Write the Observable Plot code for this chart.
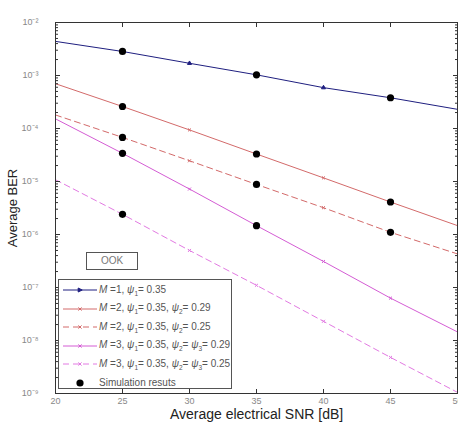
<!DOCTYPE html>
<html>
<head>
<meta charset="utf-8">
<script src="https://cdn.jsdelivr.net/npm/d3@7"></script>
<script src="https://cdn.jsdelivr.net/npm/@observablehq/plot@0.6"></script>
<style>
  html, body { margin: 0; padding: 0; background: #fff; }
  #wrap { position: relative; width: 458px; height: 422px; font-family: "Liberation Sans", Arial, sans-serif; }
  #wrap svg [aria-label="x-axis label"] text,
  #wrap svg [aria-label="x-axis label"] { font-size: 14px; fill: #222; }
  #wrap svg [aria-label="y-axis label"] text,
  #wrap svg [aria-label="y-axis label"] { font-size: 13px; fill: #222; }
  .legend { position: absolute; left: 58px; top: 279px; width: 174px; height: 110px; border: 1px solid #555; background: #fff; box-sizing: border-box; font-size: 10px; color: #555; }
  .row { position: absolute; left: 3px; height: 16px; display: flex; align-items: center; white-space: nowrap; }
  .row svg { margin-right: 1px; }
  .row sub { font-size: 6.5px; vertical-align: -3px; }
  .ook { position: absolute; left: 86px; top: 252px; width: 52px; height: 18px; border: 1px solid #555; box-sizing: border-box; font-size: 10px; color: #777; text-align: center; line-height: 16px; background: #fff; }
</style>
</head>
<body>
<div id="wrap"></div>
<script>
// ---- data ----
const snr = [20, 25, 30, 35, 40, 45, 50];
const berM1 = [4.4e-3, 2.84e-3, 1.7e-3, 1.03e-3, 5.9e-4, 3.8e-4, 2.3e-4];
const berM2a = [7.0e-4, 2.6e-4, 9.4e-5, 3.3e-5, 1.17e-5, 4.1e-6, 1.47e-6];
const berM2b = [1.8e-4, 6.8e-5, 2.46e-5, 8.8e-6, 3.2e-6, 1.1e-6, 4.3e-7];
const berM3a = [1.52e-4, 3.4e-5, 7.2e-6, 1.47e-6, 3.1e-7, 6.3e-8, 1.45e-8];
const berM3b = [1.08e-5, 2.4e-6, 5.0e-7, 1.1e-7, 2.3e-8, 4.8e-9, 1.05e-9];

const simSnr = [25, 35, 45, 25, 35, 45, 25, 35, 45, 25, 35, 25];
const simBer = [2.84e-3, 1.03e-3, 3.8e-4, 2.6e-4, 3.3e-5, 4.1e-6, 6.8e-5, 8.8e-6, 1.1e-6, 3.4e-5, 1.47e-6, 2.4e-6];

const seriesNames = ["M1", "M2a", "M2b", "M3a", "M3b"];
const seriesColors = ["#1f1f80", "#d36a6a", "#d36a6a", "#d45cd4", "#e27ae2"];
const seriesDash = [null, null, "6,4", null, "6,4"];
const seriesSymbols = ["triangle", "times", "times", "times", "times"];
const seriesBer = [berM1, berM2a, berM2b, berM3a, berM3b];

const xTicks = [20, 25, 30, 35, 40, 45, 50];
const yMajor = [1e-9, 1e-8, 1e-7, 1e-6, 1e-5, 1e-4, 1e-3, 1e-2];
const yMinor = [];
for (let k = -9; k <= -3; k++) for (let m = 2; m <= 9; m++) yMinor.push(m * Math.pow(10, k));

const legendLabels = [
  '<i>M</i> =1, <i>ψ</i><sub>1</sub>= 0.35',
  '<i>M</i> =2, <i>ψ</i><sub>1</sub>= 0.35, <i>ψ</i><sub>2</sub>= 0.29',
  '<i>M</i> =2, <i>ψ</i><sub>1</sub>= 0.35, <i>ψ</i><sub>2</sub>= 0.25',
  '<i>M</i> =3, <i>ψ</i><sub>1</sub>= 0.35, <i>ψ</i><sub>2</sub>= <i>ψ</i><sub>3</sub>= 0.29',
  '<i>M</i> =3, <i>ψ</i><sub>1</sub>= 0.35, <i>ψ</i><sub>2</sub>= <i>ψ</i><sub>3</sub>= 0.25'
];
const simLabel = "Simulation resuts";
const boxLabel = "OOK";

// ---- build table ----
const rows = [];
seriesNames.forEach((s, i) => snr.forEach((x, j) => rows.push({series: s, snr: x, ber: seriesBer[i][j]})));
const sims = simSnr.map((x, i) => ({snr: x, ber: simBer[i]}));

const sup = {"-": "⁻", "0": "⁰", "1": "¹", "2": "²", "3": "³", "4": "⁴", "5": "⁵", "6": "⁶", "7": "⁷", "8": "⁸", "9": "⁹"};
const fmtPow = d => "10" + String(Math.round(Math.log10(d))).split("").map(c => sup[c]).join("");

const lineMarks = seriesNames.map((s, i) => Plot.line(rows.filter(r => r.series === s), {
  x: "snr", y: "ber", stroke: seriesColors[i], strokeWidth: 1, strokeDasharray: seriesDash[i]
}));
const markerMarks = seriesNames.map((s, i) => Plot.dot(rows.filter(r => r.series === s && r.snr > 20 && r.snr < 50), {
  x: "snr", y: "ber", stroke: seriesColors[i], fill: seriesColors[i], symbol: seriesSymbols[i], r: 1.5, strokeWidth: 1
}));

const chart = Plot.plot({
  width: 458, height: 422,
  marginLeft: 55, marginRight: 1, marginTop: 22, marginBottom: 29,
  style: {fontFamily: "'Liberation Sans', Arial, sans-serif", fontSize: "9px", color: "#888", background: "#fff"},
  x: {domain: [20, 50]},
  y: {type: "log", domain: [1e-9, 1e-2]},
  marks: [
    ...lineMarks,
    ...markerMarks,
    Plot.dot(sims, {x: "snr", y: "ber", fill: "#000", r: 3.6}),
    Plot.frame({stroke: "#333", strokeWidth: 1}),
    Plot.axisX({ticks: xTicks, tickSize: 0, tickPadding: 4, tickFormat: d => String(d), label: "Average electrical SNR [dB]", labelAnchor: "center", labelArrow: "none", labelOffset: 25.5}),
    Plot.axisX({anchor: "bottom", ticks: xTicks, tickSize: -4, text: null, label: null, stroke: "#333"}),
    Plot.axisX({anchor: "top", ticks: xTicks, tickSize: -4, text: null, label: null, stroke: "#333"}),
    Plot.axisY({ticks: yMajor, tickSize: 0, tickPadding: 17, tickFormat: fmtPow, label: "Average BER", labelAnchor: "center", labelArrow: "none", labelOffset: 48}),
    Plot.axisY({anchor: "left", ticks: yMajor, tickSize: -5, text: null, label: null, stroke: "#333"}),
    Plot.axisY({anchor: "left", ticks: yMinor, tickSize: -3, text: null, label: null, stroke: "#333"}),
    Plot.axisY({anchor: "right", ticks: yMajor, tickSize: -5, text: null, label: null, stroke: "#333"}),
    Plot.axisY({anchor: "right", ticks: yMinor, tickSize: -3, text: null, label: null, stroke: "#333"})
  ]
});

const wrap = document.getElementById("wrap");
wrap.appendChild(chart);

// OOK box
const ook = document.createElement("div");
ook.className = "ook";
ook.textContent = boxLabel;
wrap.appendChild(ook);

// legend
const leg = document.createElement("div");
leg.className = "legend";
const symPath = {
  triangle: '<path d="M-1.8,-2L2.2,0L-1.8,2Z"/>',
  times: '<path d="M-1.6,-1.6L1.6,1.6M-1.6,1.6L1.6,-1.6" fill="none"/>'
};
legendLabels.forEach((lab, i) => {
  const r = document.createElement("div");
  r.className = "row";
  r.style.top = (2 + i * 18.5) + "px";
  const dash = seriesDash[i] ? `stroke-dasharray="${seriesDash[i]}"` : "";
  r.innerHTML = `<svg width="36" height="10"><line x1="1" y1="5" x2="35" y2="5" stroke="${seriesColors[i]}" stroke-width="1" ${dash}/><g transform="translate(18,5)" fill="${seriesColors[i]}" stroke="${seriesColors[i]}">${symPath[seriesSymbols[i]]}</g></svg><span>${lab}</span>`;
  leg.appendChild(r);
});
const sr = document.createElement("div");
sr.className = "row";
sr.style.top = (2 + 5 * 18.5) + "px";
sr.innerHTML = `<svg width="36" height="10"><circle cx="18" cy="5" r="3.6" fill="#000"/></svg><span>${simLabel}</span>`;
leg.appendChild(sr);
wrap.appendChild(leg);
</script>
</body>
</html>
